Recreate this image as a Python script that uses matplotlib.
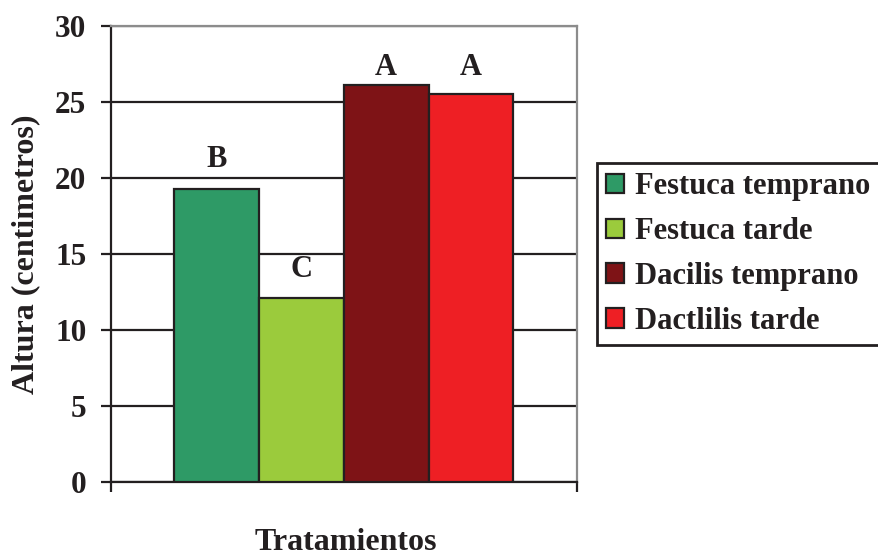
import matplotlib
matplotlib.use("Agg")
import matplotlib.pyplot as plt

# Data
treatments = ["Festuca temprano", "Festuca tarde", "Dacilis temprano", "Dactlilis tarde"]
heights = [19.3, 12.1, 26.1, 25.5]
letters = ["B", "C", "A", "A"]
letter_y = [20.75, 13.5, 26.8, 26.8]
colors = ["#2E9A66", "#9BCB3C", "#7E1316", "#EE1F24"]
yticks = [0, 5, 10, 15, 20, 25, 30]

plt.rcParams["font.family"] = ["Liberation Serif", "DejaVu Serif"]
plt.rcParams["font.weight"] = "bold"

INK = "#231F20"
W, H = 879, 557
fig = plt.figure(figsize=(W / 100, H / 100), dpi=100)
ax = fig.add_axes([110.7 / W, 1 - 482 / H, (577 - 110.7) / W, (482 - 26) / H])

# One category slot of 11 units: 1.5 gap, four bars of 2, 1.5 gap
x = [1.5 + 2 * i for i in range(len(heights))]
bars = ax.bar(x, heights, width=2, align="edge", color=colors,
              edgecolor=INK, linewidth=1.6, zorder=3)

for xi, ly, t in zip(x, letter_y, letters):
    ax.text(xi + 1, ly, t, ha="center", va="baseline", fontsize=22,
            fontweight="bold", color=INK, zorder=4)

ax.set_xlim(0, 11)
ax.set_ylim(0, 30)
ax.set_yticks(yticks)
ax.set_xticks([0, 11])
ax.set_xticklabels([])
ax.tick_params(axis="y", direction="out", length=7.5, width=1.6, color=INK,
               labelsize=22.5, pad=10, labelcolor=INK)
ax.tick_params(axis="x", direction="out", length=7.5, width=1.6, color=INK)
for lbl in ax.get_yticklabels():
    lbl.set_fontweight("bold")

ax.yaxis.grid(True, color=INK, linewidth=1.6, zorder=1)
ax.set_axisbelow(True)
for s in ["left", "bottom"]:
    ax.spines[s].set_color(INK)
    ax.spines[s].set_linewidth(1.6)
for s in ["top", "right"]:
    ax.spines[s].set_color("#8C8C8C")
    ax.spines[s].set_linewidth(1.6)

fig.text(26 / W, 1 - 254 / H, "Altura (centimetros)", rotation=90,
         ha="center", va="center", fontsize=23, fontweight="bold", color=INK)
fig.text(346 / W, 1 - 543 / H, "Tratamientos", ha="center", va="center",
         fontsize=23, fontweight="bold", color=INK)

leg = fig.legend(handles=list(bars), labels=treatments, loc="upper left",
                 bbox_to_anchor=(597 / W, 1 - 163 / H), borderaxespad=0,
                 prop={"weight": "bold", "size": 22},
                 handlelength=0.6, handleheight=0.6, handletextpad=0.33,
                 labelspacing=0.52, borderpad=0.3, fancybox=False,
                 frameon=True, framealpha=1)
leg.get_frame().set_edgecolor(INK)
leg.get_frame().set_linewidth(2)
for t in leg.get_texts():
    t.set_color(INK)

fig.savefig("out.png", dpi=100, facecolor="white")
